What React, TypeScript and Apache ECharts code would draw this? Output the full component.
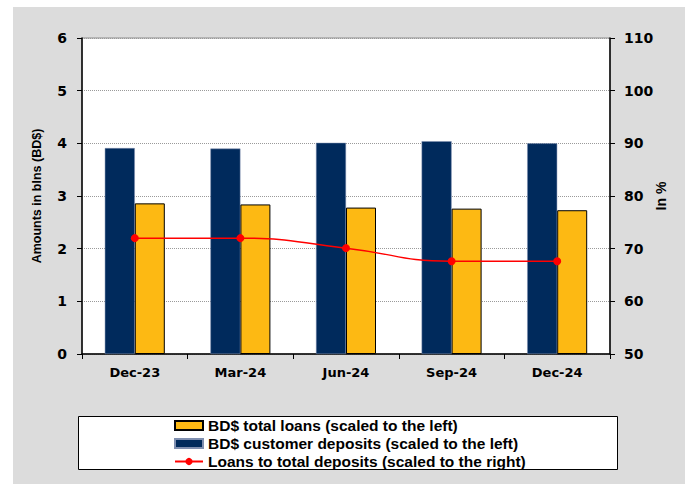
import React, { useEffect, useRef } from "react";
import * as echarts from "echarts";

const categories = ["Dec-23", "Mar-24", "Jun-24", "Sep-24", "Dec-24"];
const deposits = [3.91, 3.9, 4.01, 4.04, 4.0];
const loans = [2.86, 2.84, 2.78, 2.76, 2.73];
const ratio = [72.0, 72.0, 70.1, 67.6, 67.6];
const leftTicks = { min: 0, max: 6, interval: 1 };
const rightTicks = { min: 50, max: 110, interval: 10 };

const nameLoans = "BD$ total loans (scaled to the left)";
const nameDeposits = "BD$ customer deposits (scaled to the left)";
const nameRatio = "Loans to total deposits (scaled to the right)";

const FONT = "'Liberation Sans', Arial, sans-serif";
const WIDE = "'DejaVu Sans', Verdana, sans-serif";

export default function App() {
  const ref = useRef<HTMLDivElement>(null);
  useEffect(() => {
    if (!ref.current) return;
    const chart = echarts.init(ref.current, undefined, { renderer: "svg" });
    chart.setOption({
      animation: false,
      backgroundColor: "#ffffff",
      textStyle: { fontFamily: WIDE },
      graphic: [
        {
          type: "rect",
          z: -10,
          silent: true,
          shape: { x: 13, y: 7, width: 672, height: 477 },
          style: { fill: "#DCDCDC" },
        },
        {
          type: "rect",
          z: -5,
          silent: true,
          shape: { x: 78.5, y: 416.5, width: 539, height: 53 },
          style: { fill: "#ffffff", stroke: "#000000", lineWidth: 1 },
        },
      ],
      grid: {
        left: 82,
        top: 38,
        right: 78,
        bottom: 130,
        show: true,
        backgroundColor: "#ffffff",
        borderColor: "#8c8c8c",
        borderWidth: 1,
      },
      legend: {
        orient: "vertical",
        left: 174,
        top: 417.5,
        padding: 0,
        itemWidth: 28,
        itemHeight: 9,
        itemGap: 2,
        textStyle: {
          fontFamily: FONT,
          fontWeight: "bold",
          fontSize: 15.5,
          lineHeight: 15.5,
          color: "#000",
        },
        data: [
          { name: nameLoans, icon: "rect" },
          { name: nameDeposits, icon: "rect" },
          { name: nameRatio },
        ],
      },
      xAxis: {
        type: "category",
        data: categories,
        boundaryGap: true,
        axisLine: { lineStyle: { color: "#000", width: 1.5 } },
        axisTick: { show: true, length: 5, lineStyle: { color: "#000" } },
        axisLabel: {
          color: "#000",
          fontSize: 13,
          fontWeight: "bold",
          margin: 12,
          fontFamily: WIDE,
        },
      },
      yAxis: [
        {
          type: "value",
          min: leftTicks.min,
          max: leftTicks.max,
          interval: leftTicks.interval,
          name: "Amounts in blns (BD$)",
          nameLocation: "middle",
          nameRotate: 90,
          nameGap: 39,
          nameMoveOverlap: false,
          nameTextStyle: {
            color: "#000",
            fontSize: 12.5,
            fontWeight: "bold",
            fontFamily: FONT,
          },
          axisLine: { show: true, lineStyle: { color: "#000", width: 1.5 } },
          axisTick: { show: true, length: 5, lineStyle: { color: "#000" } },
          axisLabel: {
            color: "#000",
            fontSize: 14,
            fontWeight: "bold",
            margin: 15,
            fontFamily: WIDE,
          },
          splitLine: {
            show: true,
            lineStyle: { color: "#9a9a9a", type: "dotted", width: 1 },
          },
        },
        {
          type: "value",
          position: "right",
          min: rightTicks.min,
          max: rightTicks.max,
          interval: rightTicks.interval,
          name: "In %",
          nameLocation: "middle",
          nameRotate: 90,
          nameGap: 44,
          nameMoveOverlap: false,
          nameTextStyle: {
            color: "#000",
            fontSize: 14,
            fontWeight: "bold",
            fontFamily: FONT,
          },
          axisLine: { show: true, lineStyle: { color: "#000", width: 1.5 } },
          axisTick: { show: true, length: 5, lineStyle: { color: "#000" } },
          axisLabel: {
            color: "#000",
            fontSize: 14,
            fontWeight: "bold",
            margin: 14,
            fontFamily: WIDE,
          },
          splitLine: { show: false },
        },
      ],
      series: [
        {
          name: nameDeposits,
          type: "bar",
          yAxisIndex: 0,
          data: deposits,
          barWidth: 30,
          barGap: "0%",
          itemStyle: {
            color: "#002A5C",
            borderColor: "#7f8fb0",
            borderWidth: 0.5,
          },
        },
        {
          name: nameLoans,
          type: "bar",
          yAxisIndex: 0,
          data: loans,
          barWidth: 30,
          barGap: "0%",
          itemStyle: {
            color: "#FDB913",
            borderColor: "#000000",
            borderWidth: 1,
          },
        },
        {
          name: nameRatio,
          type: "line",
          yAxisIndex: 1,
          data: ratio,
          smooth: true,
          symbol: "circle",
          symbolSize: 8,
          lineStyle: { color: "#FF0000", width: 1.5 },
          itemStyle: { color: "#FF0000" },
          z: 5,
        },
      ],
    });
    return () => chart.dispose();
  }, []);
  return (
    <div
      ref={ref}
      style={{ position: "fixed", left: 0, top: 0, width: 688, height: 484 }}
    />
  );
}
